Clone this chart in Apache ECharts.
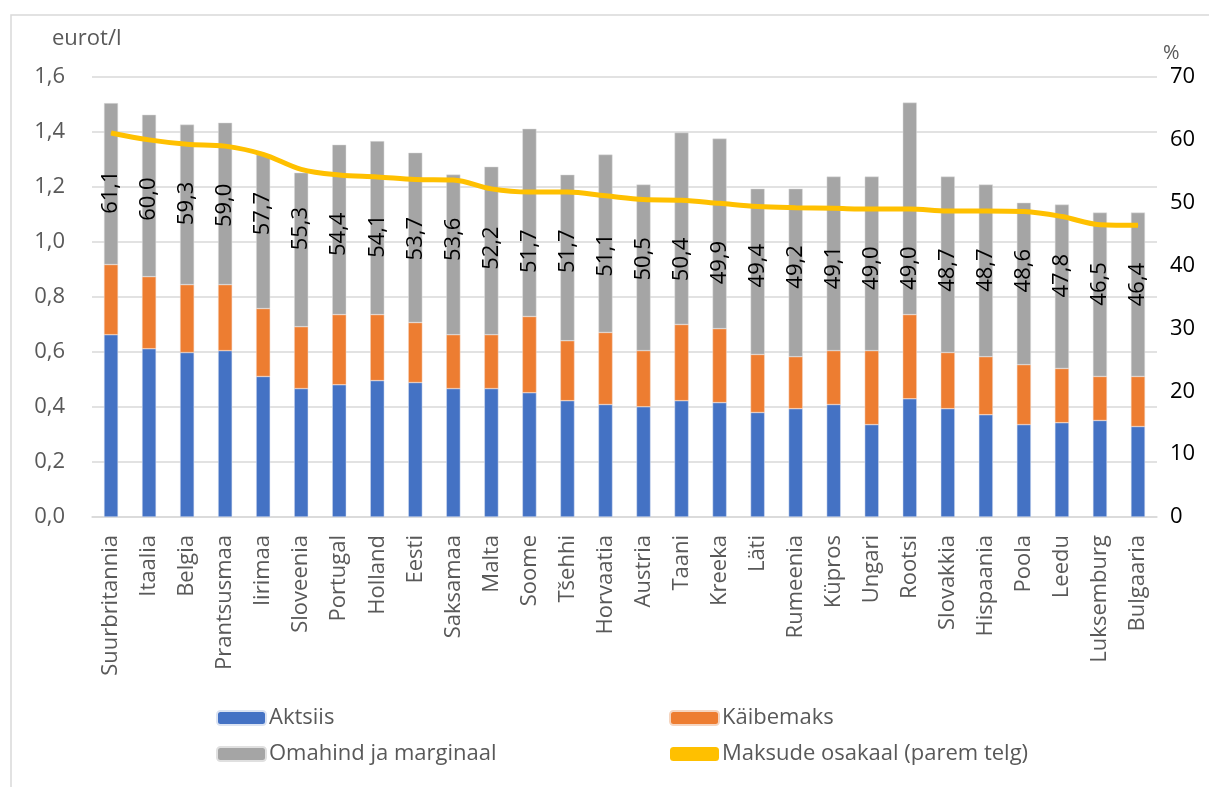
<!DOCTYPE html>
<html><head><meta charset="utf-8">
<script src="https://cdn.jsdelivr.net/npm/echarts@6/dist/echarts.min.js"></script>
<style>html,body{margin:0;padding:0;background:#fff}#c{width:1209px;height:787px}</style>
</head><body><div id="c"></div>
<script>
const categories = ["Suurbritannia","Itaalia","Belgia","Prantsusmaa","Iirimaa","Sloveenia","Portugal","Holland","Eesti","Saksamaa","Malta","Soome","Tšehhi","Horvaatia","Austria","Taani","Kreeka","Läti","Rumeenia","Küpros","Ungari","Rootsi","Slovakkia","Hispaania","Poola","Leedu","Luksemburg","Bulgaaria"];
const aktsiis = [0.663,0.612,0.598,0.605,0.511,0.467,0.481,0.496,0.489,0.467,0.467,0.452,0.423,0.409,0.401,0.423,0.416,0.380,0.394,0.409,0.336,0.430,0.394,0.372,0.336,0.343,0.351,0.329];
const kaibemaks = [0.255,0.262,0.247,0.240,0.247,0.225,0.255,0.240,0.218,0.196,0.196,0.277,0.218,0.262,0.204,0.277,0.269,0.211,0.189,0.196,0.269,0.306,0.204,0.211,0.218,0.197,0.160,0.182];
const omahind = [0.587,0.589,0.582,0.589,0.560,0.560,0.618,0.631,0.618,0.582,0.611,0.683,0.604,0.647,0.604,0.698,0.691,0.603,0.611,0.633,0.633,0.771,0.640,0.626,0.589,0.596,0.596,0.596];
const osakaal = [61.1,60.0,59.3,59.0,57.7,55.3,54.4,54.1,53.7,53.6,52.2,51.7,51.7,51.1,50.5,50.4,49.9,49.4,49.2,49.1,49.0,49.0,48.7,48.7,48.6,47.8,46.5,46.4];
const leftTicks = {min:0, max:1.6, interval:0.2};
const rightTicks = {min:0, max:70, interval:10};

const FONT = "Open Sans";
const chart = echarts.init(document.getElementById('c'));
const fmt = v => v.toFixed(1).replace('.', ',');
chart.setOption({
  animation:false,
  textStyle:{fontFamily:FONT},
  grid:{left:92, right:52, top:77, bottom:270},
  graphic:[
    {type:'rect', shape:{x:11, y:15, width:1250, height:800}, style:{fill:'none', stroke:'#d9d9d9', lineWidth:1.5}, z:-1},
    {type:'text', left:52, top:28, style:{text:'eurot/l', fontFamily:FONT, fontSize:22, fill:'#595959'}},
    {type:'text', left:1163, top:43, style:{text:'%', fontFamily:FONT, fontSize:20, fill:'#595959'}}
  ],
  legend:[
    {data:['Aktsiis','Omahind ja marginaal'], orient:'vertical', left:211, top:702, itemWidth:49, itemHeight:14, itemGap:14,
     textStyle:{fontFamily:FONT, fontSize:22, color:'#595959', padding:[0,0,0,-2]}},
    {data:['Käibemaks', {name:'Maksude osakaal (parem telg)', icon:'roundRect'}], orient:'vertical', left:664, top:702, itemWidth:49, itemHeight:14, itemGap:14,
     textStyle:{fontFamily:FONT, fontSize:22, color:'#595959', padding:[0,0,0,-2]}}
  ],
  xAxis:{type:'category', data:categories,
    axisLine:{lineStyle:{color:'#d9d9d9', width:1.5}}, axisTick:{show:false},
    axisLabel:{rotate:90, interval:0, fontFamily:FONT, fontSize:22, color:'#595959', margin:18}},
  yAxis:[
    {type:'value', min:leftTicks.min, max:leftTicks.max, interval:leftTicks.interval,
     axisLabel:{formatter:fmt, fontFamily:FONT, fontSize:22, color:'#595959', margin:27},
     splitLine:{lineStyle:{color:'#d9d9d9', width:1.5}}, axisLine:{show:false}, axisTick:{show:false}},
    {type:'value', min:rightTicks.min, max:rightTicks.max, interval:rightTicks.interval, position:'right',
     axisLabel:{fontFamily:FONT, fontSize:22, color:'#000', margin:13, align:'left'},
     splitLine:{show:false}, axisLine:{show:false}, axisTick:{show:false}}
  ],
  series:[
    {name:'Aktsiis', type:'bar', stack:'s', data:aktsiis, barWidth:'37%', itemStyle:{color:'#4472C4', borderColor:'#dbe3f2', borderWidth:0.5}},
    {name:'Käibemaks', type:'bar', stack:'s', data:kaibemaks, itemStyle:{color:'#ED7D31', borderColor:'#f5d5c0', borderWidth:0.5}},
    {name:'Omahind ja marginaal', type:'bar', stack:'s', data:omahind, itemStyle:{color:'#A5A5A5', borderColor:'#e0e0e0', borderWidth:0.5}},
    {name:'Maksude osakaal (parem telg)', type:'line', yAxisIndex:1, data:osakaal, smooth:0.35,
     symbol:'circle', symbolSize:1, showSymbol:true, itemStyle:{color:'#FFC000'},
     lineStyle:{color:'#FFC000', width:5}, z:5,
     label:{show:true, position:'bottom', distance:37, rotate:90, align:'right', verticalAlign:'middle',
       formatter:p=>fmt(p.value), fontFamily:FONT, fontSize:22, color:'#000'}}
  ]
});
</script></body></html>
